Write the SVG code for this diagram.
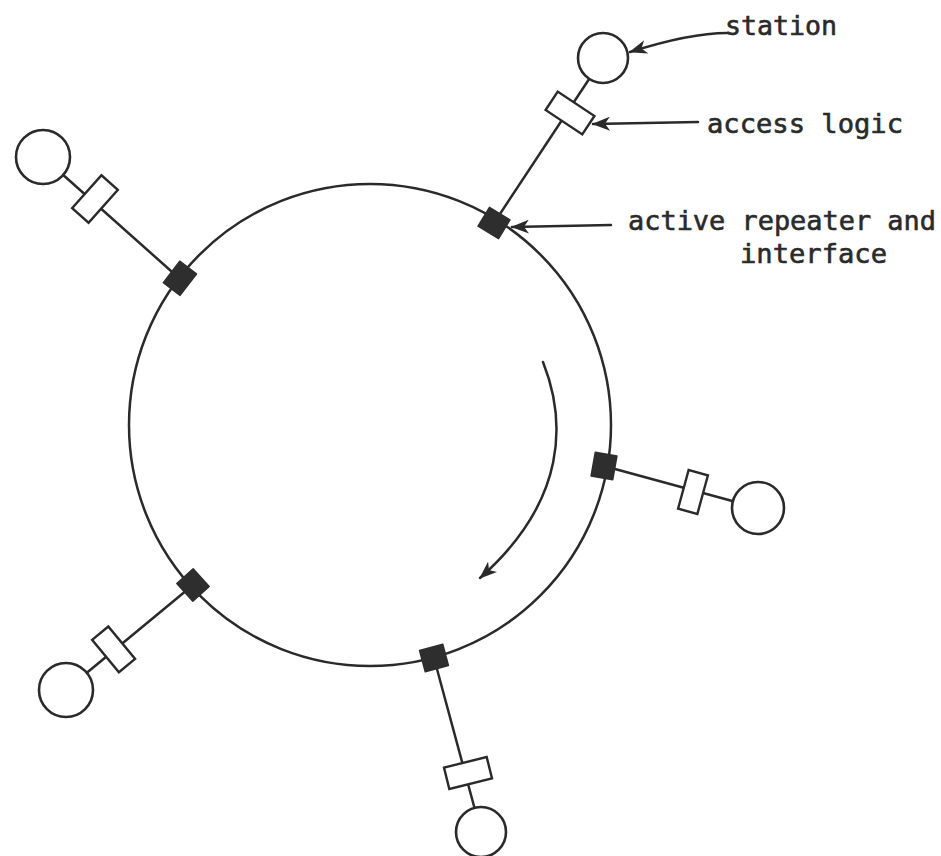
<svg xmlns="http://www.w3.org/2000/svg" width="941" height="856" viewBox="0 0 941 856">
  <style>
    .ln { fill: none; stroke: #2a2a2a; stroke-width: 2.5; stroke-linecap: round; }
    .st { fill: #ffffff; stroke: #2a2a2a; stroke-width: 2.6; }
    .al { fill: #ffffff; stroke: #2a2a2a; stroke-width: 2.4; }
    .rp { fill: #2e2e2e; stroke: #2e2e2e; stroke-width: 1.5; stroke-linejoin: round; }
    .lbl { font-family: "DejaVu Sans Mono", "Liberation Mono", monospace; font-size: 27px; fill: #2a2a2a; stroke: #2a2a2a; stroke-width: 0.6; }
  </style>
  <defs>
    <marker id="ah" viewBox="0 0 18 14" refX="17" refY="7" markerWidth="18" markerHeight="14" markerUnits="userSpaceOnUse" orient="auto">
      <path d="M0,0 L18,7 L0,14 L5,7 z" fill="#2a2a2a"/>
    </marker>
  </defs>
  <rect width="941" height="856" fill="#ffffff"/>

  <g id="ring">
    <circle cx="370" cy="425" r="241" class="ln"/>
  </g>

  <g id="connectors">
    <line class="ln" x1="494" y1="223" x2="603" y2="58"/>
    <line class="ln" x1="180" y1="279" x2="43" y2="157"/>
    <line class="ln" x1="604" y1="466" x2="758" y2="508"/>
    <line class="ln" x1="193" y1="585" x2="66" y2="690"/>
    <line class="ln" x1="434" y1="658" x2="481" y2="832"/>
    <path class="ln" d="M543,362 C566,420 568,500 480,578" marker-end="url(#ah)"/>
    <path class="ln" d="M727,33 C700,33 668,40 630,52" marker-end="url(#ah)"/>
    <path class="ln" d="M698,122 L593,124" marker-end="url(#ah)"/>
    <path class="ln" d="M611,225 L512,227" marker-end="url(#ah)"/>
  </g>

  <g id="node-tr">
    <rect class="rp" x="-11" y="-12" width="22" height="24" transform="translate(494,223) rotate(-58.7)"/>
    <rect class="al" x="-11" y="-22" width="22" height="44" transform="translate(570,113) rotate(-56.5)"/>
    <circle class="st" cx="603" cy="58" r="25"/>
  </g>
  <g id="node-tl">
    <rect class="rp" x="-10" y="-13" width="21" height="27" transform="translate(180,279) rotate(-142.6)"/>
    <rect class="al" x="-11" y="-22" width="22" height="44" transform="translate(95,199) rotate(-138.3)"/>
    <circle class="st" cx="43" cy="157" r="27"/>
  </g>
  <g id="node-r">
    <rect class="rp" x="-11" y="-12" width="22" height="24" transform="translate(604,466) rotate(10)"/>
    <rect class="al" x="-10" y="-20" width="20" height="40" transform="translate(693,492) rotate(15.3)"/>
    <circle class="st" cx="758" cy="508" r="26"/>
  </g>
  <g id="node-bl">
    <rect class="rp" x="-11" y="-12" width="22" height="24" transform="translate(193,585) rotate(138)"/>
    <rect class="al" x="-10" y="-21" width="21" height="42" transform="translate(114,649) rotate(140.4)"/>
    <circle class="st" cx="66" cy="690" r="27"/>
  </g>
  <g id="node-b">
    <rect class="rp" x="-11" y="-12" width="22" height="24" transform="translate(434,658) rotate(75)"/>
    <rect class="al" x="-11" y="-22" width="22" height="44" transform="translate(468,773) rotate(76)"/>
    <circle class="st" cx="481" cy="832" r="25"/>
  </g>

  <g id="labels">
    <text class="lbl" x="725" y="35" textLength="112" lengthAdjust="spacingAndGlyphs">station</text>
    <text class="lbl" x="707" y="133" textLength="196" lengthAdjust="spacingAndGlyphs">access logic</text>
    <text class="lbl" x="628" y="230" textLength="308" lengthAdjust="spacingAndGlyphs">active repeater and</text>
    <text class="lbl" x="740" y="263" textLength="147" lengthAdjust="spacingAndGlyphs">interface</text>
  </g>
</svg>
